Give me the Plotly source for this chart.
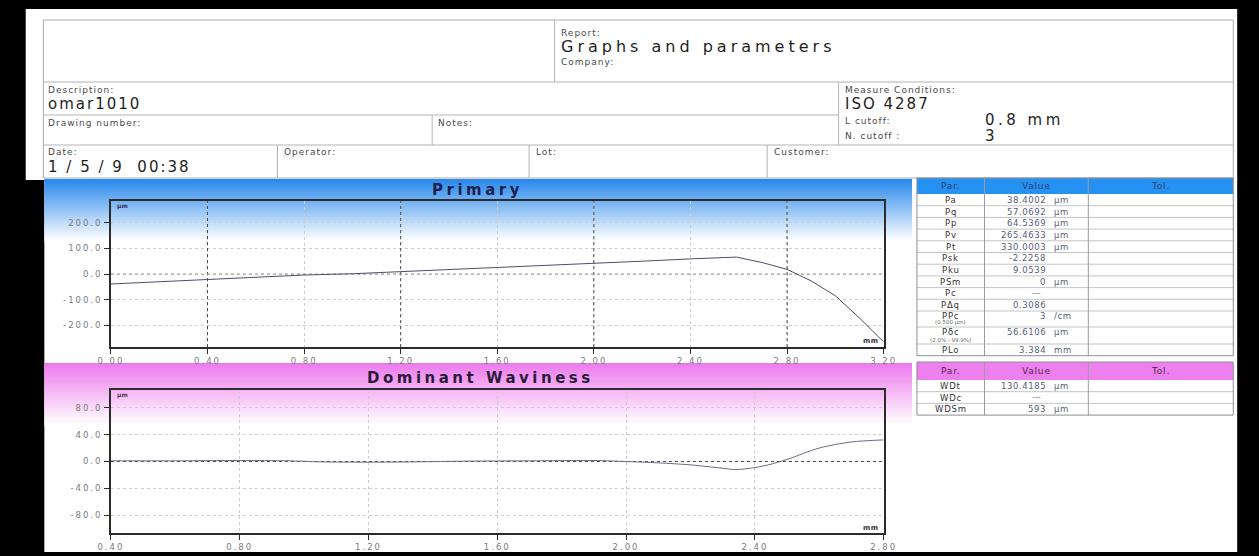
import plotly.graph_objects as go

W, H = 1259, 556
FONT = "DejaVu Sans"

# ---------------- data ----------------
primary_x = [0.00, 0.20, 0.40, 0.60, 0.80, 1.00, 1.05, 1.20, 1.40, 1.60, 1.70, 1.80, 2.00,
             2.20, 2.40, 2.50, 2.59, 2.70, 2.80, 2.90, 3.00, 3.10, 3.20]
primary_y = [-39, -30, -21, -12, -4, 1, 3, 9, 16, 25, 28, 33, 42,
             50, 59, 62, 66, 44, 18, -27, -85, -172, -265]

wav_x = [0.40, 0.60, 0.80, 0.95, 1.05, 1.20, 1.35, 1.50, 1.70, 1.90, 2.00, 2.10, 2.20,
         2.30, 2.34, 2.40, 2.45, 2.50, 2.60, 2.70, 2.80]
wav_y = [1.0, 1.0, 1.5, 1.0, -0.5, -1.0, -0.5, 0.5, 1.0, 1.5, 0.0, -2.0, -5.0,
         -10.0, -12.0, -9.0, -4.0, 3.0, 20.0, 29.0, 32.0]

primary_xticks = [0.0, 0.4, 0.8, 1.2, 1.6, 2.0, 2.4, 2.8, 3.2]
primary_major_grid = [0.4, 1.2, 2.0, 2.8]
primary_yticks = [-200, -100, 0, 100, 200]
primary_xrange = [0.0, 3.2]
primary_yrange = [-285, 285]

wav_xticks = [0.4, 0.8, 1.2, 1.6, 2.0, 2.4, 2.8]
wav_yticks = [-80, -40, 0, 40, 80]
wav_xrange = [0.4, 2.8]
wav_yrange = [-106, 106]

primary_par = ["Pa", "Pq", "Pp", "Pv", "Pt", "Psk", "Pku", "PSm", "Pc", "PΔq", "PPc", "Pδc", "PLo"]
primary_num = ["38.4002", "57.0692", "64.5369", "265.4633", "330.0003", "-2.2258", "9.0539",
               "0", "---", "0.3086", "3", "56.6106", "3.384"]
primary_unit = ["µm", "µm", "µm", "µm", "µm", "", "", "µm", "", "", "/cm", "µm", "mm"]
primary_note = ["", "", "", "", "", "", "", "", "", "", "(0.500 µm)", "(2.0% - 99.9%)", ""]

wav_par = ["WDt", "WDc", "WDSm"]
wav_num = ["130.4185", "---", "593"]
wav_unit = ["µm", "", "µm"]

table_head = ["Par.", "Value", "Tol."]

# ---------------- helpers ----------------
def fx(x):
    return x / W


def fy(y):
    return 1 - y / H


shapes = []
annotations = []


def rect(x0, y0, x1, y1, fill, line=None, lw=0):
    shapes.append(dict(type="rect", xref="paper", yref="paper",
                       x0=fx(x0), x1=fx(x1), y0=fy(y1), y1=fy(y0),
                       fillcolor=fill, line=dict(width=lw, color=line or fill), layer="below"))


def hline(x0, x1, y, color="#b3b3b3", w=1):
    shapes.append(dict(type="line", xref="paper", yref="paper",
                       x0=fx(x0), x1=fx(x1), y0=fy(y), y1=fy(y),
                       line=dict(color=color, width=w), layer="below"))


def vline(x, y0, y1, color="#b3b3b3", w=1):
    shapes.append(dict(type="line", xref="paper", yref="paper",
                       x0=fx(x), x1=fx(x), y0=fy(y0), y1=fy(y1),
                       line=dict(color=color, width=w), layer="below"))


def spaced(s, ls):
    return f'<span style="letter-spacing:{ls}px">{s}</span>' if ls else s


def text(x, y, s, size=9, color="#444444", anchor="left", bold=False, ls=0):
    t = spaced(s, ls)
    if bold:
        t = f"<b>{t}</b>"
    annotations.append(dict(xref="paper", yref="paper", x=fx(x), y=fy(y), text=t,
                            showarrow=False, xanchor=anchor, yanchor="middle",
                            font=dict(size=size, color=color, family=FONT)))


def grad(x0, x1, y0, y1, top_rgb):
    n = int(y1 - y0)
    for i in range(n):
        t = i / (n - 1)
        c = [round(v + (255 - v) * t) for v in top_rgb]
        rect(x0, y0 + i, x1, y0 + i + 1.3, f"rgb({c[0]},{c[1]},{c[2]})")


# ---------------- page ----------------
rect(13, 9, 1250, 180, "white")
rect(32, 178, 1250, 552, "white")

# header box
rect(31, 20, 1246, 178, "white", "#a8a8a8", 1)
hline(31, 1246, 82)
hline(31, 843, 115)
hline(31, 1246, 145)
vline(553, 20, 82)
vline(843, 82, 145)
vline(428, 115, 145)
for xv in (270, 527, 770):
    vline(xv, 145, 178)

LAB = "#4a4a4a"
VAL = "#1e1e1e"
text(558, 33, "Report:", 9, LAB, ls=1)
text(558, 46, "Graphs and parameters", 16, VAL, ls=4)
text(558, 62, "Company:", 9, LAB, ls=1)
text(34, 90, "Description:", 9, LAB, ls=1)
text(34, 104, "omar1010", 15, VAL, ls=2)
text(34, 123, "Drawing number:", 9, LAB, ls=1)
text(432, 123, "Notes:", 9, LAB, ls=1)
text(848, 90, "Measure Conditions:", 9, LAB, ls=1)
text(848, 104, "ISO 4287", 15, VAL, ls=2)
text(848, 121, "L cutoff:", 9, LAB, ls=1)
text(990, 120, "0.8 mm", 15, VAL, ls=3.5)
text(848, 136, "N. cutoff :", 9, LAB, ls=1)
text(990, 136, "3", 15, VAL, ls=2)
text(34, 152, "Date:", 9, LAB, ls=1)
text(34, 167, "1 / 5 / 9\u00a0\u00a000:38", 15, VAL, ls=2)
text(275, 152, "Operator:", 9, LAB, ls=1)
text(532, 152, "Lot:", 9, LAB, ls=1)
text(775, 152, "Customer:", 9, LAB, ls=1)

# gradient title bands
grad(32, 918, 179, 241, (40, 136, 236))
grad(32, 918, 363, 425, (236, 122, 236))
text(474, 190, "Primary", 15, "#1b1f4f", anchor="center", bold=True, ls=3.5)
text(477, 378, "Dominant Waviness", 15, "#2b1b3b", anchor="center", bold=True, ls=3.5)

# unit labels inside plots
text(104, 206, "µm", 6, "#333355", bold=True)
text(886, 341, "mm", 7, "#333333", anchor="right", bold=True, ls=0.5)
text(104, 395, "µm", 6, "#553355", bold=True)
text(886, 528, "mm", 7, "#333333", anchor="right", bold=True, ls=0.5)

# ---------------- parameter tables ----------------
C0, C1, C2, C3 = 923, 992, 1098, 1246
NUM_R, UNIT_L = 1057, 1061
ROW = 11.7


def table(y_top, head_h, head_fill, head_color, pars, nums, units, notes, heights):
    y_bot = y_top + head_h + sum(heights)
    rect(C0, y_top, C3, y_top + head_h, head_fill)
    rect(C0, y_top + head_h, C3, y_bot, "white")
    hy = y_top + head_h / 2
    text((C0 + C1) / 2, hy, table_head[0], 9, head_color, anchor="center", ls=0.8)
    text((C1 + C2) / 2, hy, table_head[1], 9, head_color, anchor="center", ls=0.8)
    text((C2 + C3) / 2, hy, table_head[2], 9, head_color, anchor="center", ls=0.8)
    y = y_top + head_h
    for i, h in enumerate(heights):
        if i > 0:
            hline(C0, C3, y, "#c4c4c4")
        if notes[i]:
            text((C0 + C1) / 2, y + 5.5, pars[i], 8.5, "#333333", anchor="center", ls=0.8)
            text((C0 + C1) / 2, y + h - 4, notes[i], 5.5, "#666666", anchor="center")
        else:
            text((C0 + C1) / 2, y + h / 2, pars[i], 8.5, "#333333", anchor="center", ls=0.8)
        vy = y + (5.5 if notes[i] else h / 2)
        if nums[i] == "---":
            text((C1 + C2) / 2, vy, nums[i], 8, "#777777", anchor="center")
        else:
            text(NUM_R, vy, nums[i], 8.5, "#55607a", anchor="right", ls=0.6)
            if units[i]:
                text(UNIT_L, vy, units[i], 8.5, "#55607a", ls=0.6)
        y += h
    vline(C1, y_top, y_bot, "#9c9c9c")
    vline(C2, y_top, y_bot, "#9c9c9c")
    rect(C0, y_top, C3, y_bot, "rgba(0,0,0,0)", "#8e8e8e", 1)


primary_heights = [ROW] * 10 + [16, 17, ROW]
table(178, 16, "#2591f3", "#2f3d6a", primary_par, primary_num, primary_unit, primary_note,
      primary_heights)
table(362, 18, "#ee7fee", "#4d2a4d", wav_par, wav_num, wav_unit, [""] * 3, [ROW] * 3)

# ---------------- plots ----------------
fig = go.Figure()

# darker major gridlines (at selected tick positions)
for v in primary_major_grid:
    fig.add_trace(go.Scatter(x=[v, v], y=primary_yrange, mode="lines", xaxis="x", yaxis="y",
                             line=dict(color="#4a4a4a", width=1, dash="dot"), hoverinfo="skip"))
fig.add_trace(go.Scatter(x=primary_xrange, y=[0, 0], mode="lines", xaxis="x", yaxis="y",
                         line=dict(color="#9a9a9a", width=1, dash="dot"), hoverinfo="skip"))
fig.add_trace(go.Scatter(x=wav_xrange, y=[0, 0], mode="lines", xaxis="x2", yaxis="y2",
                         line=dict(color="#4a4a4a", width=1, dash="dot"), hoverinfo="skip"))

fig.add_trace(go.Scatter(x=primary_x, y=primary_y, mode="lines", xaxis="x", yaxis="y",
                         line=dict(color="#4d4d6b", width=1), name="Primary"))
fig.add_trace(go.Scatter(x=wav_x, y=wav_y, mode="lines", xaxis="x2", yaxis="y2",
                         line=dict(color="#6a6a80", width=1, shape="spline", smoothing=0.8),
                         name="Dominant Waviness"))

axis_common = dict(showline=True, linecolor="#2b2b2b", linewidth=1.5, mirror=True,
                   ticks="outside", tickcolor="#2b2b2b", ticklen=5, tickwidth=1,
                   showgrid=True, gridcolor="#cdcdcd", griddash="dot", gridwidth=1,
                   zeroline=False, fixedrange=True, tickmode="array",
                   tickfont=dict(family=FONT, size=8.5, color="#7a7a7a"))

fig.update_layout(
    width=W, height=H, autosize=False,
    margin=dict(l=0, r=0, t=0, b=0),
    paper_bgcolor="#000000", plot_bgcolor="rgba(0,0,0,0)",
    showlegend=False,
    xaxis=dict(axis_common, domain=[fx(100), fx(889)], range=primary_xrange, anchor="y",
               tickvals=primary_xticks,
               ticktext=[spaced(f"{v:.2f}", 2) for v in primary_xticks]),
    yaxis=dict(axis_common, domain=[fy(347), fy(201)], range=primary_yrange, anchor="x",
               tickvals=primary_yticks,
               ticktext=[spaced(f"{v:.1f}", 2) for v in primary_yticks]),
    xaxis2=dict(axis_common, domain=[fx(100), fx(889)], range=wav_xrange, anchor="y2",
                tickvals=wav_xticks,
                ticktext=[spaced(f"{v:.2f}", 2) for v in wav_xticks]),
    yaxis2=dict(axis_common, domain=[fy(533), fy(390)], range=wav_yrange, anchor="x2",
                tickvals=wav_yticks,
                ticktext=[spaced(f"{v:.1f}", 2) for v in wav_yticks]),
    shapes=shapes,
    annotations=annotations,
)

fig.write_html(
    "out.html",
    config={"displayModeBar": False},
    post_script="document.body.style.margin='0px';document.body.style.background='#000000';",
)
